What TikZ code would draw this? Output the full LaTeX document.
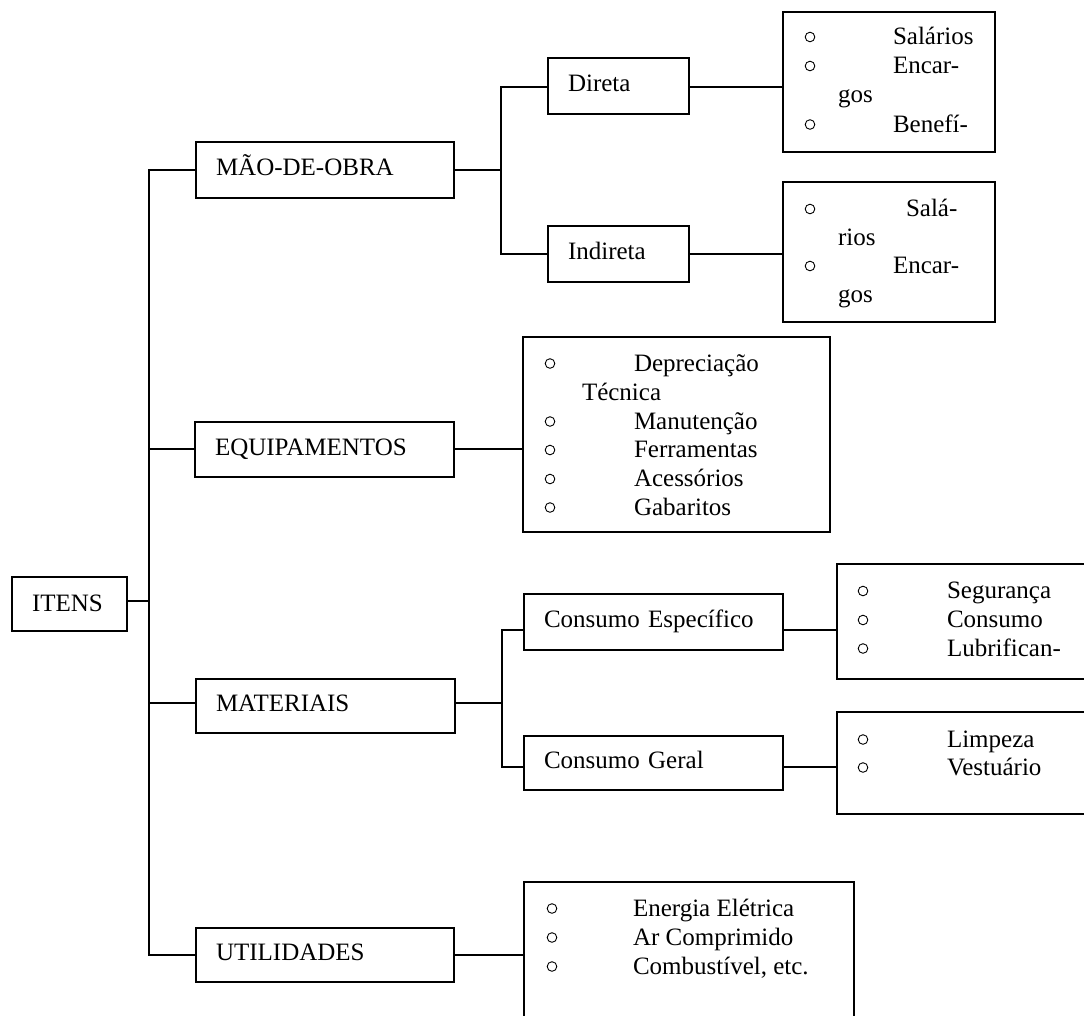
\documentclass[tikz,border=0pt]{standalone}
\usepackage{fontspec}
\setmainfont{Liberation Serif}
\begin{document}
\begin{tikzpicture}[x=1pt, y=-1pt,
  every node/.style={outer sep=0pt},
  lbl/.style={font=\fontsize{25}{29}\selectfont},
  box/.style={draw, line width=1.7pt, inner xsep=20pt, inner ysep=0pt, align=left,
              text height=17.5pt, text depth=6.25pt, lbl},
  listbox/.style={draw, line width=1.7pt, inner sep=0pt},
  item/.style={anchor=base west, inner sep=0pt, lbl},
  bul/.style={circle, draw, line width=0.9pt, minimum size=9.6pt, inner sep=0pt},
  link/.style={line width=1.5pt}]

\useasboundingbox (0,0) rectangle (1084,1015);
\clip (0,0) rectangle (1084,1015);

% main items
\node[box, text width=75pt, minimum width=115pt, minimum height=54pt, text depth=2pt] (itens) at (69.5,604) {ITENS};
\node[box, text width=218pt, minimum width=258pt, minimum height=56pt] (mao) at (325,170) {MÃO-DE-OBRA};
\node[box, text width=219pt, minimum width=259pt, minimum height=55pt] (equip) at (324.5,449.5) {EQUIPAMENTOS};
\node[box, text width=219pt, minimum width=259pt, minimum height=54pt] (mat) at (325.5,706) {MATERIAIS};
\node[box, text width=218pt, minimum width=258pt, minimum height=54pt] (util) at (325,955) {UTILIDADES};

% sub-items
\node[box, text width=101pt, minimum width=141pt, minimum height=56pt] (direta) at (618.5,86) {Direta};
\node[box, text width=101pt, minimum width=141pt, minimum height=56pt] (indireta) at (618.5,254) {Indireta};
\node[box, text width=219pt, minimum width=259pt, minimum height=56pt] (cesp) at (653.5,622) {Consumo Específico};
\node[box, text width=219pt, minimum width=259pt, minimum height=54pt] (cger) at (653.5,763) {Consumo Geral};

% list frames
\node[listbox, minimum width=212pt, minimum height=140pt] (l1) at (889,82) {};
\node[listbox, minimum width=212pt, minimum height=140pt] (l2) at (889,252) {};
\node[listbox, minimum width=307pt, minimum height=195pt] (l3) at (676.5,434.5) {};
\node[listbox, minimum width=258pt, minimum height=115pt] (l4) at (966,621.5) {};
\node[listbox, minimum width=258pt, minimum height=102pt] (l5) at (966,763) {};
\node[listbox, minimum width=330pt, minimum height=143pt] (l6) at (689,953.5) {};

% list: Direta
\node[bul] (l1b1) at (810,37) {};
\node[item] (l1t1) at (893,44.5) {Salários};
\node[bul] (l1b2) at (810,66) {};
\node[item] (l1t2) at (893,73.5) {Encar-};
\node[item] (l1t3) at (838,102.5) {gos};
\node[bul] (l1b3) at (810,124.5) {};
\node[item] (l1t4) at (893,132) {Benefí-};

% list: Indireta
\node[bul] (l2b1) at (810,209) {};
\node[item] (l2t1) at (906,216.5) {Salá-};
\node[item] (l2t2) at (838,245) {rios};
\node[bul] (l2b2) at (810,266) {};
\node[item] (l2t3) at (893,273.5) {Encar-};
\node[item] (l2t4) at (838,302) {gos};

% list: equipamentos
\node[bul] (l3b1) at (550,363.5) {};
\node[item] (l3t1) at (634,371) {Depreciação};
\node[item] (l3t2) at (582,400) {Técnica};
\node[bul] (l3b2) at (550,421.5) {};
\node[item] (l3t3) at (634,429) {Manutenção};
\node[bul] (l3b3) at (550,450) {};
\node[item] (l3t4) at (634,457.5) {Ferramentas};
\node[bul] (l3b4) at (550,479) {};
\node[item] (l3t5) at (634,486.5) {Acessórios};
\node[bul] (l3b5) at (550,507.5) {};
\node[item] (l3t6) at (634,515) {Gabaritos};

% list: consumo específico
\node[bul] (l4b1) at (863,591) {};
\node[item] (l4t1) at (947,598.5) {Segurança};
\node[bul] (l4b2) at (863,620) {};
\node[item] (l4t2) at (947,627.5) {Consumo};
\node[bul] (l4b3) at (863,648.5) {};
\node[item] (l4t3) at (947,656) {Lubrifican-};

% list: consumo geral
\node[bul] (l5b1) at (863,739.5) {};
\node[item] (l5t1) at (947,747) {Limpeza};
\node[bul] (l5b2) at (863,767.5) {};
\node[item] (l5t2) at (947,775) {Vestuário};

% list: utilidades
\node[bul] (l6b1) at (552,908.5) {};
\node[item] (l6t1) at (633,916) {Energia Elétrica};
\node[bul] (l6b2) at (552,937.5) {};
\node[item] (l6t2) at (633,945) {Ar Comprimido};
\node[bul] (l6b3) at (552,966.5) {};
\node[item] (l6t3) at (633,974) {Combustível, etc.};

% trunk from ITENS
\coordinate (tI) at (149,601);
\coordinate (tM) at (149,170);
\coordinate (tE) at (149,449);
\coordinate (tA) at (149,703);
\coordinate (tU) at (149,955);
\draw[link] (mao.west |- tM) -- (tM) -- (tU) -- (util.west |- tU);
\draw[link] (itens.east |- tI) -- (tI);
\draw[link] (tE) -- (equip.west |- tE);
\draw[link] (tA) -- (mat.west |- tA);

% MÃO-DE-OBRA branch
\coordinate (bM) at (501,170);
\coordinate (bD) at (501,87);
\coordinate (bI) at (501,254);
\draw[link] (mao.east |- bM) -- (bM);
\draw[link] (direta.west |- bD) -- (bD) -- (bI) -- (indireta.west |- bI);
\draw[link] (direta.east |- bD) -- (l1.west |- bD);
\draw[link] (indireta.east |- bI) -- (l2.west |- bI);

% EQUIPAMENTOS
\draw[link] (equip.east |- tE) -- (l3.west |- tE);

% MATERIAIS branch
\coordinate (bA) at (502,703);
\coordinate (bE) at (502,630);
\coordinate (bG) at (502,767);
\draw[link] (mat.east |- bA) -- (bA);
\draw[link] (cesp.west |- bE) -- (bE) -- (bG) -- (cger.west |- bG);
\draw[link] (cesp.east |- bE) -- (l4.west |- bE);
\draw[link] (cger.east |- bG) -- (l5.west |- bG);

% UTILIDADES
\draw[link] (util.east |- tU) -- (l6.west |- tU);

\end{tikzpicture}
\end{document}
